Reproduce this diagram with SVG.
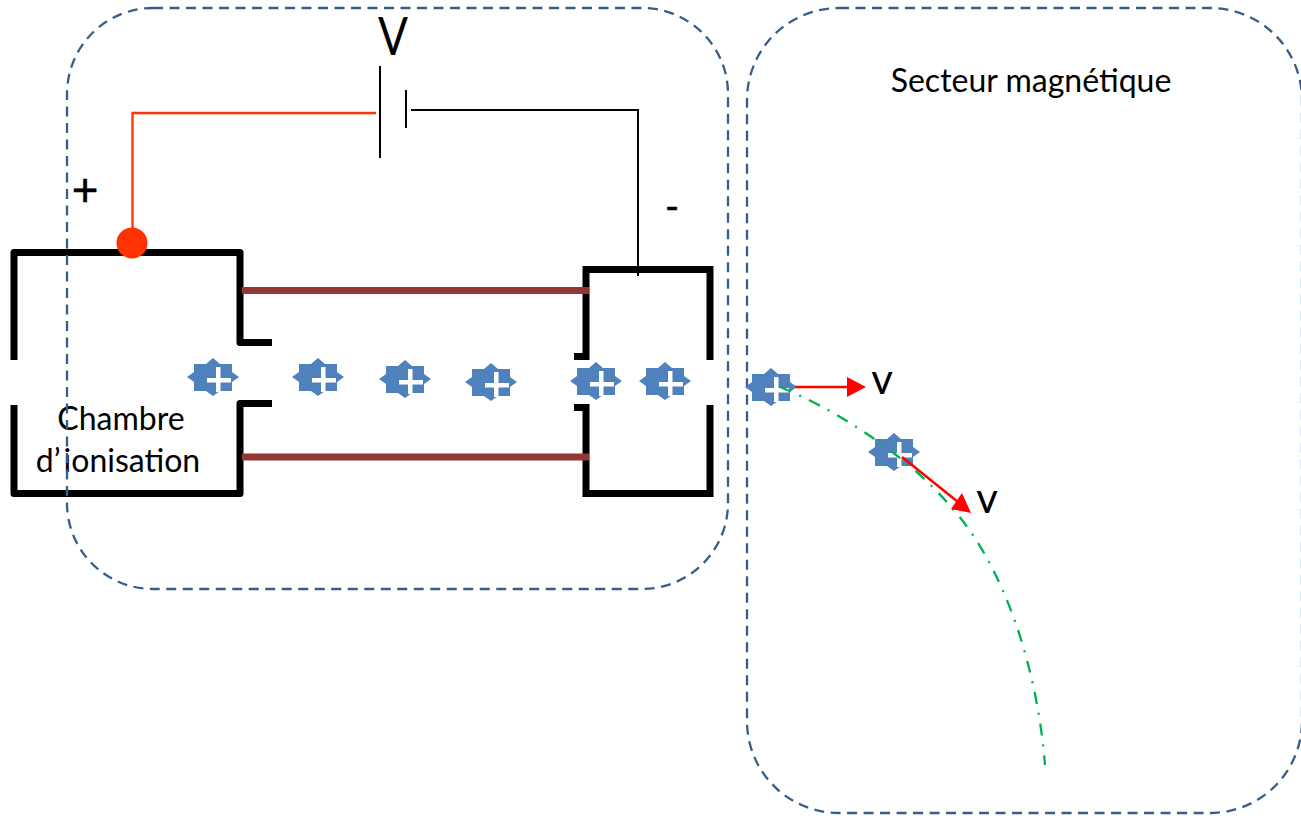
<svg xmlns="http://www.w3.org/2000/svg" width="1301" height="816" viewBox="0 0 1301 816">
<style>
.frame{fill:none;stroke:#385D8A;stroke-width:2.300;stroke-dasharray:10 6.500}
.wall{fill:none;stroke:#000;stroke-width:7;stroke-linejoin:round}
.wallb{fill:none;stroke:#000;stroke-width:7;stroke-linejoin:miter}
.tube{fill:none;stroke:#943634;stroke-width:7}
.txt{font-family:"Lato","Open Sans","Liberation Sans",sans-serif;fill:#000}
.star{fill:#4F81BD}
.plus{fill:#fff}
.vec{stroke:#FF0000;stroke-width:2.500;fill:none}
.head{fill:#FF0000}
</style>
<defs>
<g id="ion">
<polygon class="star" points="-26,0 -19,-5 -19,-13 -7,-13 0,-19 7,-13 19,-13 19,-5 26,0 19,5 19,14 7,14 0,19 -7,14 -19,14 -19,5"/>
<path class="plus" d="M3-10h4.500v11h10.500v4.500h-10.500v9.500h-4.500v-9.500h-9v-4.500h9z"/>
</g>
</defs>
<g id="chambre-ionisation">
<path class="wall" d="M14 360V252.500H240V342.500H272"/>
<path class="wall" d="M14 405V493.500H240V403.500H272"/>
<text class="txt" x="121" y="430" font-size="32" text-anchor="middle">Chambre</text>
<text class="txt" x="118" y="472" font-size="32" text-anchor="middle">d’<tspan dx="3">ionisation</tspan></text>
</g>
<g id="chambre-droite">
<path class="wallb" d="M574 356.500H586V269.500H710V360"/>
<path class="wallb" d="M574 407.500H586V493.500H710V405"/>
</g>
<g id="frame-acceleration"><rect class="frame" x="67" y="8" width="661" height="581" rx="86" ry="86"/></g>
<g id="frame-magnetique"><rect class="frame" x="747" y="8" width="555" height="805" rx="92" ry="92"/></g>
<g id="ions">
<use href="#ion" x="213" y="377"/>
<use href="#ion" x="318" y="377"/>
<use href="#ion" x="405" y="379"/>
<use href="#ion" x="491" y="382"/>
<use href="#ion" x="596" y="381"/>
<use href="#ion" x="665" y="381"/>
<use href="#ion" x="771" y="387"/>
<use href="#ion" x="894" y="452"/>
</g>
<g id="connectors">
<path d="M376 113H132.500V240" fill="none" stroke="#FF3300" stroke-width="2.300"/>
<path d="M411 110H638V276" fill="none" stroke="#000" stroke-width="2"/>
<path class="tube" d="M242 290.500H589"/>
<path class="tube" d="M242 457H589"/>
<path d="M780 387C830 407 905 452 952 508C1003 565 1037 665 1045 765" fill="none" stroke="#00B050" stroke-width="2.300" stroke-dasharray="12 9 2 9"/>
<path class="vec" d="M795 387H848"/>
<polygon class="head" points="847,377 866,387 847,397"/>
<path class="vec" d="M902 457L958 502"/>
<polygon class="head" points="951,509 962,493 971,513"/>
</g>
<g id="borne-plus"><circle cx="132" cy="243" r="15.500" fill="#FF3300"/></g>
<g id="battery">
<path d="M380 66V158M406 90V128" stroke="#000" stroke-width="2" fill="none"/>
<text class="txt" x="378" y="55" font-size="52" textLength="30" lengthAdjust="spacingAndGlyphs">V</text>
</g>
<g id="labels">
<text class="txt" x="85" y="206" font-size="46" text-anchor="middle" stroke="#000" stroke-width="0.500">+</text>
<text class="txt" x="672" y="220" font-size="38" text-anchor="middle" stroke="#000" stroke-width="0.500">-</text>
<text class="txt" x="1031" y="92" font-size="32" text-anchor="middle">Secteur magnétique</text>
<text class="txt" x="882" y="394" font-size="42" text-anchor="middle">v</text>
<text class="txt" x="987" y="513" font-size="42" text-anchor="middle">v</text>
</g>
</svg>
